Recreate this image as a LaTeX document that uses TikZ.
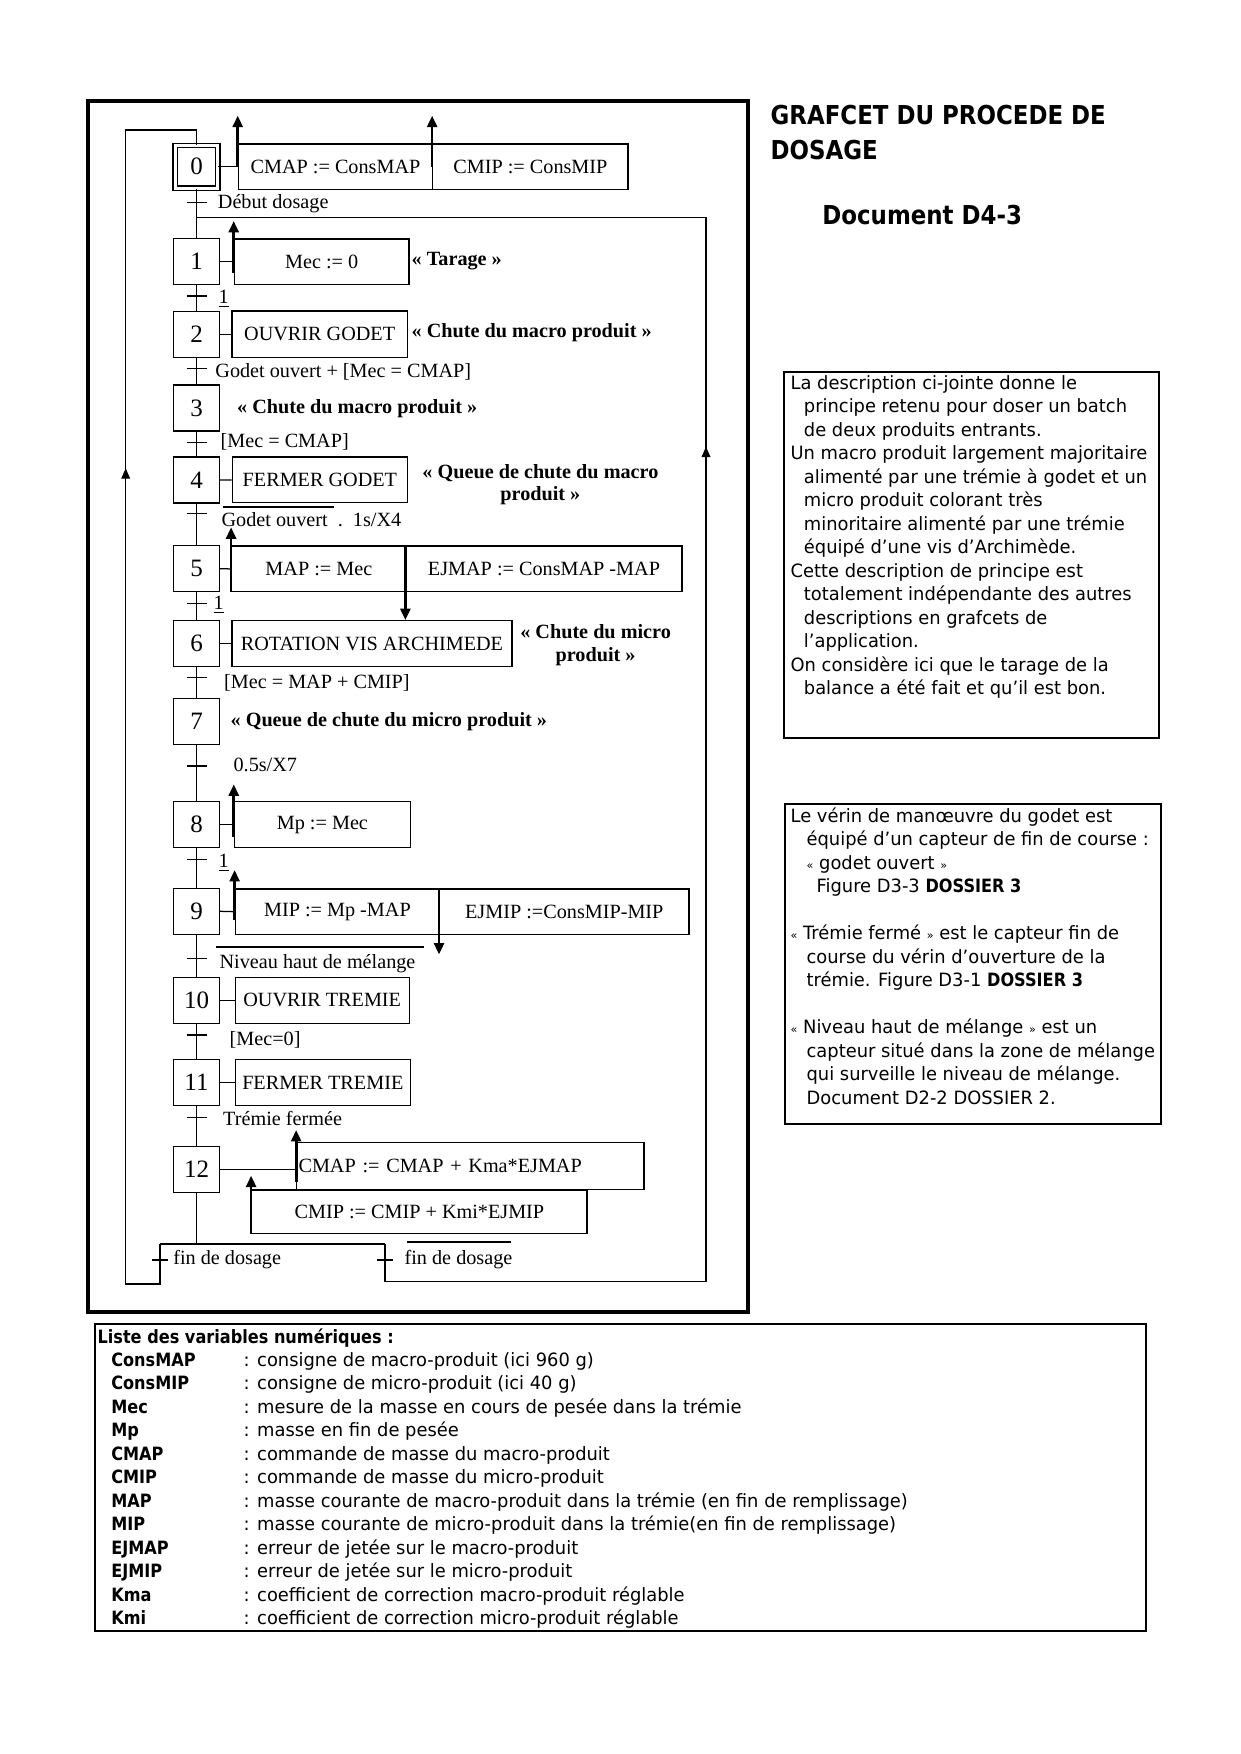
\documentclass[tikz,border=0pt]{standalone}
\usepackage{fontspec}
\setmainfont{Liberation Serif}
\newfontfamily\dejavu[FakeStretch=0.975]{DejaVu Sans}
\newfontfamily\dejavugras[FakeStretch=0.88]{DejaVu Sans}
\usetikzlibrary{arrows.meta}
\newcommand\petitog{{\fontsize{5.5}{6}\selectfont «}}
\newcommand\petitfg{{\fontsize{5.5}{6}\selectfont »}}

\begin{document}
\begin{tikzpicture}[x=0.48006pt, y=-0.48006pt, line width=0.6pt,
  etape/.style={draw, fill=white, minimum width=22.1pt, minimum height=22.1pt, inner sep=0pt, font=\fontsize{12}{14}\selectfont},
  action/.style={draw, fill=white, inner sep=0pt, font=\fontsize{9.7}{11}\selectfont},
  recept/.style={anchor=west, inner sep=0pt, font=\fontsize{9.7}{11}\selectfont},
  commentaire/.style={inner sep=0pt, font=\fontsize{9.7}{10.9}\selectfont\bfseries},
  memo/.style={line width=1.3pt, -{Triangle[length=5.5pt, width=4.8pt]}},
  retour/.style={-{Triangle[length=5pt, width=4.2pt]}},
  barre/.style={line width=1.1pt},
  texte/.style={anchor=base west, inner sep=0pt, font=\dejavu\fontsize{8.8}{10}\selectfont},
  gras/.style={anchor=base west, inner sep=0pt, font=\dejavugras\bfseries\fontsize{8.8}{10}\selectfont},
  titre/.style={anchor=base west, inner sep=0pt, font=\dejavugras\bfseries\fontsize{12.5}{15}\selectfont}]
  \useasboundingbox (0,0) rectangle (1240,1754);
  \draw[line width=1.7pt] (88,101) rectangle (748,1312);

  \node[etape, double, double distance=1.4pt, minimum width=20.5pt, minimum height=20.5pt] (s0) at (196.5,166.7) {0};
  \foreach \i/\y in {1/261.7, 2/334.3, 3/408, 4/480, 5/568.8, 6/643.7, 7/721.3, 8/824.7, 9/911.3, 10/1000.3, 11/1082.5, 12/1169.5}
    \node[etape] (s\i) at (196.5,\y) {\i};
  \foreach \a/\b in {0/1, 1/2, 2/3, 3/4, 4/5, 5/6, 6/7, 7/8, 8/9, 9/10, 10/11, 11/12}
    \draw (s\a.south) -- (s\b.north);
  \foreach \i/\y in {0/202.3, 1/296, 2/368.3, 3/442.3, 4/513.3, 5/603.3, 6/677.7, 7/766, 8/859.3, 9/958.3, 10/1035, 11/1117.3} {
    \coordinate (t\i) at (196.5,\y);
    \draw ([xshift=-4.8pt]t\i) -- ([xshift=4.8pt]t\i);
  }

  \node[recept] (r0) at (217.3,204) {Début dosage};
  \node[recept] (r1) at (218,299) {\underline{1}};
  \node[recept] (r2) at (214.8,372) {Godet ouvert + [Mec = CMAP]};
  \node[recept] (r3) at (220,442.3) {[Mec = CMAP]};
  \node[recept] (r4) at (221,520) {Godet ouvert\ \ .\ \ 1s/X4};
  \node[recept] (r5) at (213,605) {\underline{1}};
  \node[recept] (r6) at (223.5,683.3) {[Mec = MAP + CMIP]};
  \node[recept] (r7) at (233,765) {0.5s/X7};
  \node[recept] (r8) at (218,863) {\underline{1}};
  \node[recept] (r9) at (219,963.3) {Niveau haut de mélange};
  \node[recept] (r10) at (229,1040) {[Mec=0]};
  \node[recept] (r11) at (222.6,1118.3) {Trémie fermée};
  \draw[barre] (223.3,506.7) -- (334,506.7);
  \draw[barre] (216,947.3) -- (423.5,947.3);

  \node[action, minimum width=93.3pt, minimum height=21.7pt] (a0a) at (335.5,166.7) {CMAP := ConsMAP};
  \node[action, minimum width=93.75pt, minimum height=21.7pt] (a0b) at (530.4,166.7) {CMIP := ConsMIP};
  \node[action, minimum width=83.9pt, minimum height=21.7pt] (a1) at (321.7,261.7) {Mec := 0};
  \node[action, minimum width=84.2pt, minimum height=22.4pt] (a2) at (319.7,334.3) {OUVRIR GODET};
  \node[action, minimum width=84.1pt, minimum height=21.9pt] (a4) at (319.9,479.9) {FERMER GODET};
  \node[action, minimum width=83.7pt, minimum height=21.9pt] (a5a) at (318.9,568.9) {MAP := Mec};
  \node[action, minimum width=132.5pt, minimum height=21.9pt] (a5b) at (544,568.9) {EJMAP := ConsMAP -MAP};
  \node[action, minimum width=134.4pt, minimum height=22.1pt] (a6) at (372,643.7) {ROTATION VIS ARCHIMEDE};
  \node[action, minimum width=84.5pt, minimum height=22.1pt] (a8) at (322.4,824.7) {Mp := Mec};
  \node[action, minimum width=98.1pt, minimum height=21.7pt] (a9a) at (337.4,911.7) {MIP := Mp -MAP};
  \node[action, minimum width=119.7pt, minimum height=21.7pt] (a9b) at (564.3,911.7) {EJMIP :=ConsMIP-MIP};
  \node[action, minimum width=83.5pt, minimum height=22.1pt] (a10) at (322.2,1000.3) {OUVRIR TREMIE};
  \node[action, minimum width=84.1pt, minimum height=22.3pt] (a11) at (322.8,1082.5) {FERMER TREMIE};
  \node[action, minimum width=166.7pt, minimum height=22.4pt, text width=165pt, inner xsep=0.85pt, align=left] (a12a) at (470.4,1166) {CMAP := CMAP + Kma*EJMAP};
  \node[action, minimum width=161pt, minimum height=20.8pt] (a12b) at (419.4,1211.7) {CMIP := CMIP + Kmi*EJMIP};

  \foreach \e/\a in {0/a0a, 1/a1, 2/a2, 4/a4, 5/a5a, 6/a6, 8/a8, 9/a9a, 10/a10, 11/a11}
    \draw (s\e.east) -- (\a.west);
  \draw (s12.east) -- (s12.east -| a12a.west);

  \draw[memo] (a0a.west) -- ++(0,-51);
  \draw[memo] (a0b.west) -- ++(0,-51);
  \draw[memo] ([yshift=-5.3pt]a1.west) -- ++(0,-51.7);
  \draw[memo] (a5a.south west) -- ++(0,-65);
  \draw[memo] (a5b.north west) -- (a5b.north west |- a6.north);
  \draw[memo] ([yshift=-5.8pt]a8.west) -- ++(0,-52.4);
  \draw[memo] ([yshift=-4pt]a9a.west) -- ++(0,-50);
  \draw[memo] (a9b.north west) -- ++(0,66);
  \draw[memo] ([yshift=-7.5pt]a12a.west) -- ++(0,-51.6);
  \draw[memo] (a12b.south west) -- ++(0,-58.3);

  \node[commentaire, anchor=west] (c1) at (411,261) {« Tarage »};
  \node[commentaire, anchor=west] (c2) at (411,332.3) {« Chute du macro produit »};
  \node[commentaire, anchor=west] (c3) at (236.5,408.3) {« Chute du macro produit »};
  \node[commentaire, align=center] (c4) at (540.4,484.7) {« Queue de chute du macro\\produit »};
  \node[commentaire, align=center] (c6) at (595.6,645.3) {« Chute du micro\\produit »};
  \node[commentaire, anchor=west] (c7) at (230,721.7) {« Queue de chute du micro produit »};

  \coordinate (ou) at (196.5,1244);
  \coordinate (fg) at (160,1244);
  \coordinate (fd) at (385,1244);
  \coordinate (tg) at (160,1260);
  \coordinate (td) at (385,1260);
  \coordinate (jonction) at (196.5,217.7);
  \draw (s12.south) -- (ou);
  \draw (fg) -- (fd);
  \draw (fg) -- (160,1284) -| (125.7,130) -| (s0.north);
  \draw (fd) -- (385,1281.7) -| (706,217.7) -- (jonction);
  \draw[retour] (125.7,490) -- (125.7,468.3);
  \draw[retour] (706,468) -- (706,446.7);
  \draw ([xshift=-3.8pt]tg) -- ([xshift=3.8pt]tg);
  \draw ([xshift=-3.8pt]td) -- ([xshift=3.8pt]td);
  \node[recept] (rg) at (172.7,1260) {fin de dosage};
  \node[recept] (rd) at (404,1260) {fin de dosage};
  \draw[barre] (406.7,1242.3) -- (511,1242.3);

  \node[titre] (titre1) at (770,125) {GRAFCET DU PROCEDE DE};
  \node[titre] (titre2) at (770,160) {DOSAGE};
  \node[titre] (doc) at (821.7,225) {Document D4-3};

  \draw[line width=1pt] (784,371.7) rectangle (1159.3,738.3);
  \foreach \k/\xx/\ligne in {0/790/La description ci-jointe donne le, 1/803.3/principe retenu pour doser un batch, 2/803.3/de deux produits entrants., 3/790/Un macro produit largement majoritaire, 4/803.3/alimenté par une trémie à godet et un, 5/803.3/micro produit colorant très, 6/803.3/minoritaire alimenté par une trémie, 7/803.3/équipé d’une vis d’Archimède., 8/790/Cette description de principe est, 9/803.3/totalement indépendante des autres, 10/803.3/descriptions en grafcets de, 11/803.3/l’application., 12/790/On considère ici que le tarage de la, 13/803.3/balance a été fait et qu’il est bon.}
    \node[texte] (d\k) at (\xx,{389.5+23.46*\k}) {\ligne};

  \draw[line width=1pt] (785,804) rectangle (1160.7,1124.3);
  \foreach \k/\xx/\ligne in {0/790/Le vérin de manœuvre du godet est, 1/806/équipé d’un capteur de fin de course :, 2/806/\petitog\ godet ouvert \petitfg, 3/816/Figure D3-3 {\dejavugras\bfseries DOSSIER 3}, 5/790/\petitog\ Trémie fermé \petitfg\ est le capteur fin de, 6/806/course du vérin d’ouverture de la, 7/806/trémie. Figure D3-1 {\dejavugras\bfseries DOSSIER 3}, 9/790/\petitog\ Niveau haut de mélange \petitfg\ est un, 10/806/capteur situé dans la zone de mélange, 11/806/qui surveille le niveau de mélange., 12/806/Document D2-2 DOSSIER 2.}
    \node[texte] (n\k) at (\xx,{822+23.5*\k}) {\ligne};

  \draw[line width=1.1pt] (95,1324) rectangle (1146,1631);
  \node[gras] (liste) at (97,1343) {Liste des variables numériques :};
  \foreach \nom/\sens [count=\i from 0] in {ConsMAP/consigne de macro-produit (ici 960 g), ConsMIP/consigne de micro-produit (ici 40 g), Mec/mesure de la masse en cours de pesée dans la trémie, Mp/masse en fin de pesée, CMAP/commande de masse du macro-produit, CMIP/commande de masse du micro-produit, MAP/masse courante de macro-produit dans la trémie (en fin de remplissage), MIP/masse courante de micro-produit dans la trémie(en fin de remplissage), EJMAP/erreur de jetée sur le macro-produit, EJMIP/erreur de jetée sur le micro-produit, Kma/coefficient de correction macro-produit réglable, Kmi/coefficient de correction micro-produit réglable} {
    \node[gras] (v\i) at (110.7,{1366+23.5*\i}) {\nom};
    \node[texte] (e\i) at (243,{1366+23.5*\i}) {: \sens};
  }
\end{tikzpicture}
\end{document}
